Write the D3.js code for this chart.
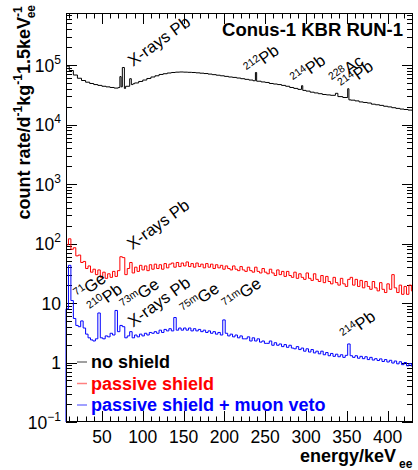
<!DOCTYPE html>
<html><head><meta charset="utf-8">
<script src="https://cdn.jsdelivr.net/npm/d3@7"></script>
<style>body{margin:0;background:#fff;} svg{display:block;font-family:"Liberation Sans",Arial,Helvetica,sans-serif;}</style>
</head><body><svg id="c" width="418" height="470"></svg>
<script>
// ---------------- data ----------------
const energyDomain = [6, 431];
const rateDomain = [0.1, 7.5e5];
const xTicks = [50, 100, 150, 200, 250, 300, 350, 400];
const yTickExp = [-1, 0, 1, 2, 3, 4, 5];

// no shield (bin start energies, keV) and rates
const blackE = [6,10,15,20,25,30,35,40,45,50,55,60,65,70,72,73.5,75,77.5,79,84,86,88,90,95,100,105,110,115,120,125,130,135,140,145,150,155,160,165,170,175,180,185,190,195,200,205,210,215,220,225,230,235,238,239.5,245,250,255,260,265,270,275,280,285,290,294.5,296,300,305,310,315,320,325,330,336,339,345,351,352.5,355,360,365,370,375,380,385,390,395,400,405,410,415,420,425,430];
const blackV = [96000,81000,68000,60000,55000,51500,49000,47000,45500,44000,43000,42000,41000,42000,64000,43000,91000,40500,44000,59000,47000,48500,50000,53000,56000,59500,63000,66000,69500,71500,73500,75000,76000,76500,76000,75500,75000,74000,73000,72000,70500,69000,67500,66000,64500,63000,62000,60500,59000,57500,56000,54500,75000,53500,52000,51000,49000,48000,47000,45500,44000,42000,40500,39000,45000,37500,36500,35000,34000,33000,32000,31500,31000,33500,29500,28500,40000,26000,25700,25000,24000,23500,23000,22000,21500,21000,20300,19800,19200,18700,18200,17900,17500,17200];

// passive shield: 3 keV bins starting at 6 keV
const binStart = 6, binWidth = 3;
const redV = [95,120,80,85,62,64,48,50,38,42,33,37,30,36,27,33,26,31,27,34,28,35,60,58,30,38,48,32,40,34,43,36,42,35,44,37,45,38,44,37,46,39,45,47,40,48,41,47,42,49,41,46,40,47,41,45,39,46,40,45,38,44,39,43,37,42,38,36,42,37,35,41,36,34,40,35,33,40,34,32,38,33,31,37,32,29,36,30,34,28,34,29,27,33,26,31,27,25,32,26,24,31,25,23,29,22,28,23,21,27,22,20,26,21,19,25,27,20,25,19,24,18,23,19,17,23,18,16,22,17,15,21,17,30,18,15,20,14,19,14,20,16];

// passive shield + muon veto: same binning
const blueV = [8,43,11,5.5,4.2,4.0,5.0,3.8,3.0,2.6,2.4,2.3,2.5,6.8,2.6,2.5,2.8,2.7,3.1,2.9,7.5,3.3,4.2,4.0,2.6,2.8,3.3,2.6,2.9,2.7,3.0,2.8,3.1,2.9,3.2,3.1,3.3,3.1,3.5,3.2,3.6,3.4,3.7,3.4,5.7,3.5,3.8,3.5,3.8,3.5,3.8,3.4,3.7,3.4,3.6,3.3,3.5,3.2,3.4,3.1,3.3,3.0,3.2,2.9,5.2,3.1,2.8,3.0,2.7,2.9,2.6,2.8,2.5,2.5,2.7,2.3,2.6,2.3,2.5,2.2,2.3,2.1,2.1,2.3,1.95,2.15,1.95,2.05,1.85,2.0,1.8,1.95,1.75,1.7,1.85,1.65,1.75,1.55,1.7,1.5,1.65,1.45,1.55,1.4,1.55,1.35,1.47,1.3,1.42,1.27,1.38,1.25,1.35,1.22,1.32,2.05,1.3,1.22,1.3,1.18,1.27,1.16,1.25,1.12,1.22,1.1,1.16,1.08,1.15,1.04,1.12,1.02,1.09,0.98,1.06,0.95,1.03,0.92,1.0,0.88,0.96,0.87];

const seriesNames = ["no shield", "passive shield", "passive shield + muon veto"];
const seriesColors = ["#000000", "#ff0000", "#0000ff"];
const legendColors = ["#808080", "#ff8080", "#8080ff"];

// annotations: [superscript, main text, energy, rate]
const notes = [
  ["", "X-rays Pb", 88, 9.3e4],
  ["212", "Pb", 231, 6.8e4],
  ["214", "Pb", 288, 4.6e4],
  ["228", "Ac", 335.5, 4.6e4],
  ["214", "Pb", 346.5, 3.7e4],
  ["", "X-rays Pb", 87, 77],
  ["71", "Ge", 23, 11],
  ["210", "Pb", 39, 6.6],
  ["73m", "Ge", 79.5, 7.2],
  ["", "X-rays Pb", 88, 3.85],
  ["75m", "Ge", 153, 6.1],
  ["71m", "Ge", 204.4, 7.4],
  ["214", "Pb", 349, 2.3]
];
const title = "Conus-1 KBR RUN-1";

// ---------------- drawing ----------------
const svg = d3.select("#c");
const L = 66, R = 413, T = 13, B = 422;
const x = d3.scaleLinear().domain(energyDomain).range([L, R]);
const y = d3.scaleLog().domain(rateDomain).range([B, T]);

svg.append("rect").attr("width", 418).attr("height", 470).attr("fill", "#fff");

svg.append("clipPath").attr("id", "clip").append("rect")
  .attr("x", L - 1).attr("y", T).attr("width", R - L + 1).attr("height", B - T);

const line = d3.line().x(d => x(d[0])).y(d => y(d[1])).curve(d3.curveStepAfter);
function pts(E, V, startBottom) {
  const p = E.map((e, i) => [e, V[i]]);
  p.push([energyDomain[1], V[V.length - 1]]);
  if (startBottom) p.unshift([E[0], rateDomain[0]]);
  return p;
}
const regE = redV.map((_, i) => binStart + i * binWidth);

// ticks
const g = svg.append("g").attr("stroke", "#000").attr("stroke-width", 1);
d3.range(10, 431, 10).forEach(v => {
  const len = v % 50 === 0 ? 11 : 5.5;
  const px = Math.round(x(v)) + 0.5;
  g.append("line").attr("x1", px).attr("x2", px).attr("y1", B).attr("y2", B - len);
  g.append("line").attr("x1", px).attr("x2", px).attr("y1", T).attr("y2", T + len);
});
for (let e = -1; e <= 5; e++) {
  for (let m = 1; m <= 9; m++) {
    const v = m * Math.pow(10, e);
    if (v < rateDomain[0] || v > rateDomain[1]) continue;
    const len = m === 1 ? 11 : 6;
    const py = Math.round(y(v)) + 0.5;
    g.append("line").attr("x1", L).attr("x2", L + len).attr("y1", py).attr("y2", py);
    g.append("line").attr("x1", R).attr("x2", R - len).attr("y1", py).attr("y2", py);
  }
}

// series
const plot = svg.append("g").attr("clip-path", "url(#clip)").attr("fill", "none").attr("stroke-width", 1);
plot.append("path").attr("d", line(pts(blackE, blackV))).attr("stroke", seriesColors[0]);
plot.append("path").attr("d", line(pts(regE, redV))).attr("stroke", seriesColors[1]);
plot.append("path").attr("d", line(pts(regE, blueV, true))).attr("stroke", seriesColors[2]);

// frame
svg.append("rect").attr("x", L + 0.5).attr("y", T + 0.5).attr("width", R - L - 1).attr("height", B - T - 1)
  .attr("fill", "none").attr("stroke", "#000").attr("stroke-width", 1);

// x tick labels
svg.append("g").selectAll("text").data(xTicks).join("text")
  .attr("x", d => x(d)).attr("y", 443).attr("text-anchor", "middle")
  .attr("font-size", 17.5).text(d => d);

// y tick labels
const yl = svg.append("g");
yTickExp.forEach(e => {
  const t = yl.append("text").attr("x", 61).attr("y", y(Math.pow(10, e)) + 6.5)
    .attr("text-anchor", "end").attr("font-size", 17.5);
  if (e === 0) t.text("1");
  else if (e === 1) t.text("10");
  else {
    t.append("tspan").text("10");
    t.append("tspan").attr("font-size", 12).attr("dy", -8).text(e < 0 ? "\u2212" + (-e) : e);
  }
});

// axis titles
const yt = svg.append("text").attr("transform", "translate(30,5) rotate(-90)")
  .attr("text-anchor", "end").attr("font-size", 18).attr("font-weight", "bold");
yt.append("tspan").text("count rate/d");
yt.append("tspan").attr("font-size", 12).attr("dy", -8).text("-1");
yt.append("tspan").attr("dy", 8).text("kg");
yt.append("tspan").attr("font-size", 12).attr("dy", -8).text("-1");
yt.append("tspan").attr("dy", 8).text("1.5keV");
yt.append("tspan").attr("font-size", 12).attr("dy", -8).text("-1");
yt.append("tspan").attr("font-size", 12).attr("dy", 13).attr("dx", -12).text("ee");

const xt = svg.append("text").attr("x", 300).attr("y", 462)
  .attr("font-size", 18).attr("font-weight", "bold");
xt.append("tspan").text("energy/keV");
xt.append("tspan").attr("font-size", 12).attr("dy", 6).attr("dx", 3).text("ee");

// title
svg.append("text").attr("x", 403).attr("y", 36).attr("text-anchor", "end")
  .attr("font-size", 18.5).attr("font-weight", "bold").text(title);

// annotations
notes.forEach(n => {
  const t = svg.append("text")
    .attr("transform", `translate(${x(n[2])},${y(n[3])}) rotate(-36)`)
    .attr("font-size", 16.5);
  if (n[0]) {
    t.append("tspan").attr("font-size", 10.5).attr("dy", -6).text(n[0]);
    t.append("tspan").attr("dy", 6).text(n[1]);
  } else t.text(n[1]);
});

// legend
const leg = svg.append("g");
seriesNames.forEach((s, i) => {
  const ly = 362 + i * 21.5;
  leg.append("line").attr("x1", 77).attr("x2", 87).attr("y1", ly).attr("y2", ly)
    .attr("stroke", legendColors[i]).attr("stroke-width", 1.5);
  leg.append("text").attr("x", 91).attr("y", ly + 6).attr("font-size", 18)
    .attr("font-weight", "bold").attr("fill", seriesColors[i]).text(s);
});
</script></body></html>
